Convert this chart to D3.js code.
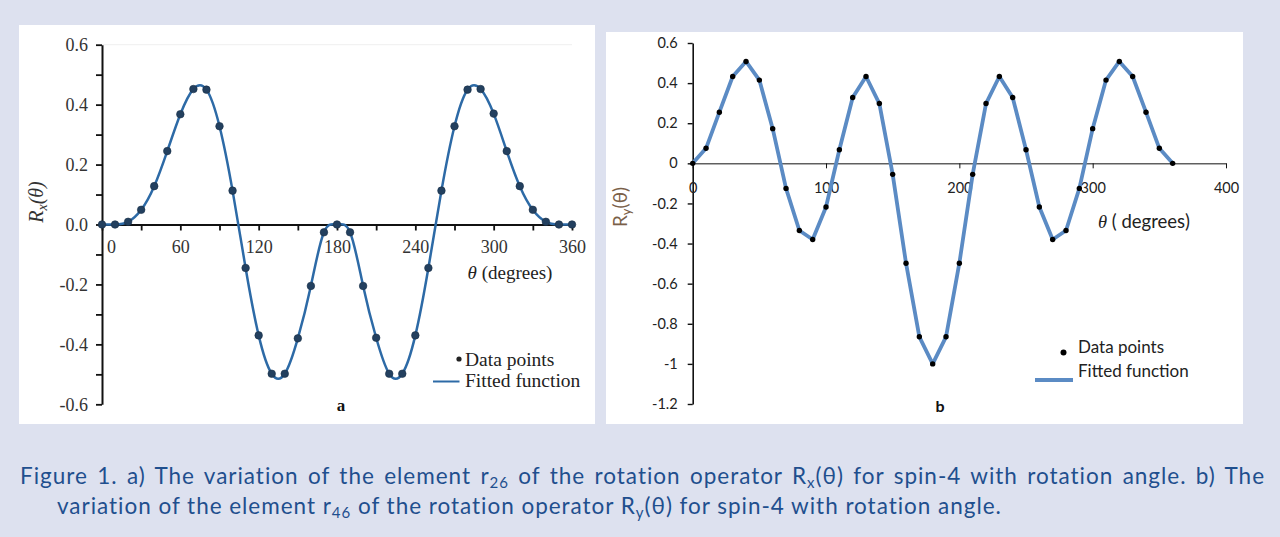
<!DOCTYPE html>
<html>
<head>
<meta charset="utf-8">
<script src="https://cdn.jsdelivr.net/npm/d3@7"></script>
<style>
  html, body { margin: 0; padding: 0; background: #dde1ef; }
  svg { display: block; }
</style>
</head>
<body>
<svg id="chart" width="1280" height="537"></svg>
<script>
// ---------- DATA ----------
// Panel a: element r26 of Rx(theta), spin-4
const anglesA = [0,10,20,30,40,50,60,70,80,90,100,110,120,130,140,150,160,170,180,190,200,210,220,230,240,250,260,270,280,290,300,310,320,330,340,350,360];
const valuesA = [0,0,0.009,0.049,0.128,0.245,0.368,0.452,0.450,0.328,0.113,-0.145,-0.370,-0.498,-0.498,-0.380,-0.205,-0.026,0,-0.026,-0.205,-0.378,-0.498,-0.498,-0.370,-0.145,0.113,0.328,0.450,0.452,0.370,0.245,0.128,0.049,0.009,0,0];
const xTicksA = [0,30,60,90,120,150,180,210,240,270,300,330,360];
const xLabelsA = [0,60,120,180,240,300,360];
const yTicksA = [-0.6,-0.5,-0.4,-0.3,-0.2,-0.1,0,0.1,0.2,0.3,0.4,0.5,0.6];
const yLabelsA = [-0.6,-0.4,-0.2,0,0.2,0.4,0.6];

// Panel b: element r46 of Ry(theta), spin-4
const anglesB = [0,10,20,30,40,50,60,70,80,90,100,110,120,130,140,150,160,170,180,190,200,210,220,230,240,250,260,270,280,290,300,310,320,330,340,350,360];
const valuesB = [0,0.075,0.255,0.433,0.508,0.415,0.173,-0.125,-0.335,-0.380,-0.218,0.068,0.328,0.433,0.298,-0.055,-0.498,-0.865,-1.0,-0.865,-0.498,-0.055,0.298,0.433,0.328,0.068,-0.218,-0.380,-0.335,-0.125,0.173,0.415,0.508,0.433,0.255,0.075,0];
const xTicksB = [0,100,200,300,400];
const yTicksB = [-1.2,-1,-0.8,-0.6,-0.4,-0.2,0,0.2,0.4,0.6];

const legendLabels = ["Data points", "Fitted function"];

// ---------- DRAW ----------
const svg = d3.select("#chart");
svg.append("rect").attr("x",0).attr("y",0).attr("width",1280).attr("height",537).attr("fill","#dde1ef");

// panels
svg.append("rect").attr("x",19).attr("y",25).attr("width",576).attr("height",399).attr("fill","#ffffff");
svg.append("rect").attr("x",606).attr("y",32).attr("width",637).attr("height",392).attr("fill","#ffffff");

// ===== Panel a =====
const serif = "'Liberation Serif', 'Times New Roman', serif";
const xA = d3.scaleLinear().domain([0,360]).range([102,572]);
const yA = d3.scaleLinear().domain([-0.6,0.6]).range([404.3,44.7]);
const gA = svg.append("g");

// faint top gridline
gA.append("line").attr("x1",xA(0)).attr("x2",xA(360)).attr("y1",yA(0.6)).attr("y2",yA(0.6))
  .attr("stroke","#efefef").attr("stroke-width",1);

// y axis
const yAxisA = d3.axisLeft(yA).tickValues(yTicksA).tickSize(6).tickPadding(8).tickSizeOuter(0)
  .tickFormat(d => yLabelsA.some(v => Math.abs(v-d)<1e-9) ? d.toFixed(1) : "");
const gyA = gA.append("g").attr("transform",`translate(${xA(0)},0)`).call(yAxisA);
gyA.select(".domain").attr("stroke","#111").attr("stroke-width",2);
gyA.selectAll(".tick line").attr("stroke","#111").attr("stroke-width",1.8);
gyA.selectAll(".tick text").attr("font-family",serif).attr("font-size",18).attr("fill","#333");

// x axis at y=0
const xAxisA = d3.axisBottom(xA).tickValues(xTicksA).tickSize(6).tickPadding(10).tickSizeOuter(0)
  .tickFormat(d => xLabelsA.includes(d) ? String(d) : "");
const gxA = gA.append("g").attr("transform",`translate(0,${yA(0)})`).call(xAxisA);
gxA.select(".domain").attr("stroke","#111").attr("stroke-width",1.8);
gxA.selectAll(".tick line").attr("stroke","#111").attr("stroke-width",1.8);
gxA.selectAll(".tick text").attr("font-family",serif).attr("font-size",18).attr("fill","#333")
  .attr("dx", d => d === 0 ? 9 : 0);

// fitted curve
const ptsA = anglesA.map((a,i) => [a, valuesA[i]]);
gA.append("path").datum(ptsA)
  .attr("d", d3.line().x(d => xA(d[0])).y(d => yA(d[1])).curve(d3.curveNatural))
  .attr("fill","none").attr("stroke","#2d6aa6").attr("stroke-width",2.5);
// data points
gA.selectAll("circle.pa").data(ptsA).join("circle").attr("class","pa")
  .attr("cx", d => xA(d[0])).attr("cy", d => yA(d[1])).attr("r",3.8)
  .attr("fill","#23405f").attr("stroke","#1a2f47").attr("stroke-width",0.6);

// axis titles
gA.append("text").attr("x",510).attr("y",279).attr("text-anchor","middle")
  .attr("font-family",serif).attr("font-size",19).attr("fill","#222")
  .html('<tspan font-style="italic">θ</tspan> (degrees)');
gA.append("text").attr("transform","translate(43,202) rotate(-90)").attr("text-anchor","middle")
  .attr("font-family",serif).attr("font-size",20).attr("fill","#333").attr("font-style","italic")
  .html('R<tspan font-size="14" dy="4">x</tspan><tspan dy="-4">(θ)</tspan>');

// legend a
gA.append("circle").attr("cx",459).attr("cy",359).attr("r",2.6).attr("fill","#222");
gA.append("text").attr("x",465).attr("y",366).attr("font-family",serif).attr("font-size",19.5).attr("fill","#222").text(legendLabels[0]);
gA.append("line").attr("x1",433).attr("x2",459.5).attr("y1",381.5).attr("y2",381.5).attr("stroke","#2d6aa6").attr("stroke-width",2);
gA.append("text").attr("x",465).attr("y",387).attr("font-family",serif).attr("font-size",19.5).attr("fill","#222").text(legendLabels[1]);
gA.append("text").attr("x",341).attr("y",411).attr("text-anchor","middle").attr("font-family",serif)
  .attr("font-weight","bold").attr("font-size",17).attr("fill","#111").text("a");

// ===== Panel b =====
const sans = "Lato, 'Open Sans', sans-serif";
const xB = d3.scaleLinear().domain([0,400]).range([692.7,1226]);
const yB = d3.scaleLinear().domain([-1.2,0.6]).range([404,43]);
const gB = svg.append("g");

const yAxisB = d3.axisLeft(yB).tickValues(yTicksB).tickSize(5).tickPadding(10).tickSizeOuter(0)
  .tickFormat(d => String(+d.toFixed(1)));
const gyB = gB.append("g").attr("transform",`translate(${xB(0)},0)`).call(yAxisB);
gyB.select(".domain").attr("stroke","#111").attr("stroke-width",1.6);
gyB.selectAll(".tick line").attr("stroke","#111").attr("stroke-width",1.4);
gyB.selectAll(".tick text").attr("font-family",sans).attr("font-size",14.5).attr("fill","#222");

const xAxisB = d3.axisBottom(xB).tickValues(xTicksB).tickSize(5).tickPadding(14).tickSizeOuter(0)
  .tickFormat(d => String(d));
const gxB = gB.append("g").attr("transform",`translate(0,${yB(0)})`).call(xAxisB);
gxB.select(".domain").attr("stroke","#111").attr("stroke-width",1);
gxB.selectAll(".tick line").attr("stroke","#111").attr("stroke-width",1);
gxB.selectAll(".tick text").attr("font-family",sans).attr("font-size",14.5).attr("fill","#222");

const ptsB = anglesB.map((a,i) => [a, valuesB[i]]);
gB.append("path").datum(ptsB)
  .attr("d", d3.line().x(d => xB(d[0])).y(d => yB(d[1])))
  .attr("fill","none").attr("stroke","#5b8bc4").attr("stroke-width",3.8).attr("stroke-linejoin","round");
gB.selectAll("circle.pb").data(ptsB).join("circle").attr("class","pb")
  .attr("cx", d => xB(d[0])).attr("cy", d => yB(d[1])).attr("r",2.7).attr("fill","#000");

gB.append("text").attr("x",1144).attr("y",228).attr("text-anchor","middle")
  .attr("font-family",sans).attr("font-size",18.5).attr("fill","#222")
  .html('<tspan font-family="\'Liberation Serif\', serif" font-style="italic">θ</tspan> ( degrees)');
gB.append("text").attr("transform","translate(627,207) rotate(-90)").attr("text-anchor","middle")
  .attr("font-family",sans).attr("font-size",19).attr("fill","#7a6048")
  .html('R<tspan font-size="13" dy="4">y</tspan><tspan dy="-4">(θ)</tspan>');

// legend b
gB.append("circle").attr("cx",1063.5).attr("cy",352.5).attr("r",3).attr("fill","#000");
gB.append("text").attr("x",1078).attr("y",353).attr("font-family",sans).attr("font-size",17).attr("fill","#222").text(legendLabels[0]);
gB.append("line").attr("x1",1035).attr("x2",1073).attr("y1",380).attr("y2",380).attr("stroke","#5b8bc4").attr("stroke-width",3.8);
gB.append("text").attr("x",1078).attr("y",377).attr("font-family",sans).attr("font-size",17).attr("fill","#222").text(legendLabels[1]);
gB.append("text").attr("x",940).attr("y",412).attr("text-anchor","middle").attr("font-family",sans)
  .attr("font-weight","bold").attr("font-size",16).attr("fill","#111").text("b");

// ===== Caption =====
const capColor = "#1f4f8e";
const capSize = 22.5;
const cap1 = svg.append("text").attr("x",20).attr("y",484).attr("font-family",sans).attr("font-size",capSize).attr("fill",capColor)
  .html('Figure 1. a) The variation of the element r<tspan font-size="15" dy="4">26</tspan><tspan dy="-4"> of the rotation operator R</tspan><tspan font-size="15" dy="4">x</tspan><tspan dy="-4">(θ) for spin-4 with rotation angle. b) The</tspan>');
const cap2 = svg.append("text").attr("x",57).attr("y",514).attr("font-family",sans).attr("font-size",capSize).attr("fill",capColor)
  .html('variation of the element r<tspan font-size="15" dy="4">46</tspan><tspan dy="-4"> of the rotation operator R</tspan><tspan font-size="15" dy="4">y</tspan><tspan dy="-4">(θ) for spin-4 with rotation angle.</tspan>');
(function(){
  // letter-spacing so that line 2 matches its reference width
  const n2 = cap2.text().length;
  const w2 = cap2.node().getComputedTextLength();
  const ls = (946 - w2) / n2;
  cap1.attr("letter-spacing", ls);
  cap2.attr("letter-spacing", ls);
  // justify line 1
  const t1 = cap1.text();
  const spaces = (t1.match(/ /g) || []).length;
  const w1 = cap1.node().getComputedTextLength();
  cap1.attr("word-spacing", (1245 - w1) / spaces);
})();
</script>
</body>
</html>
